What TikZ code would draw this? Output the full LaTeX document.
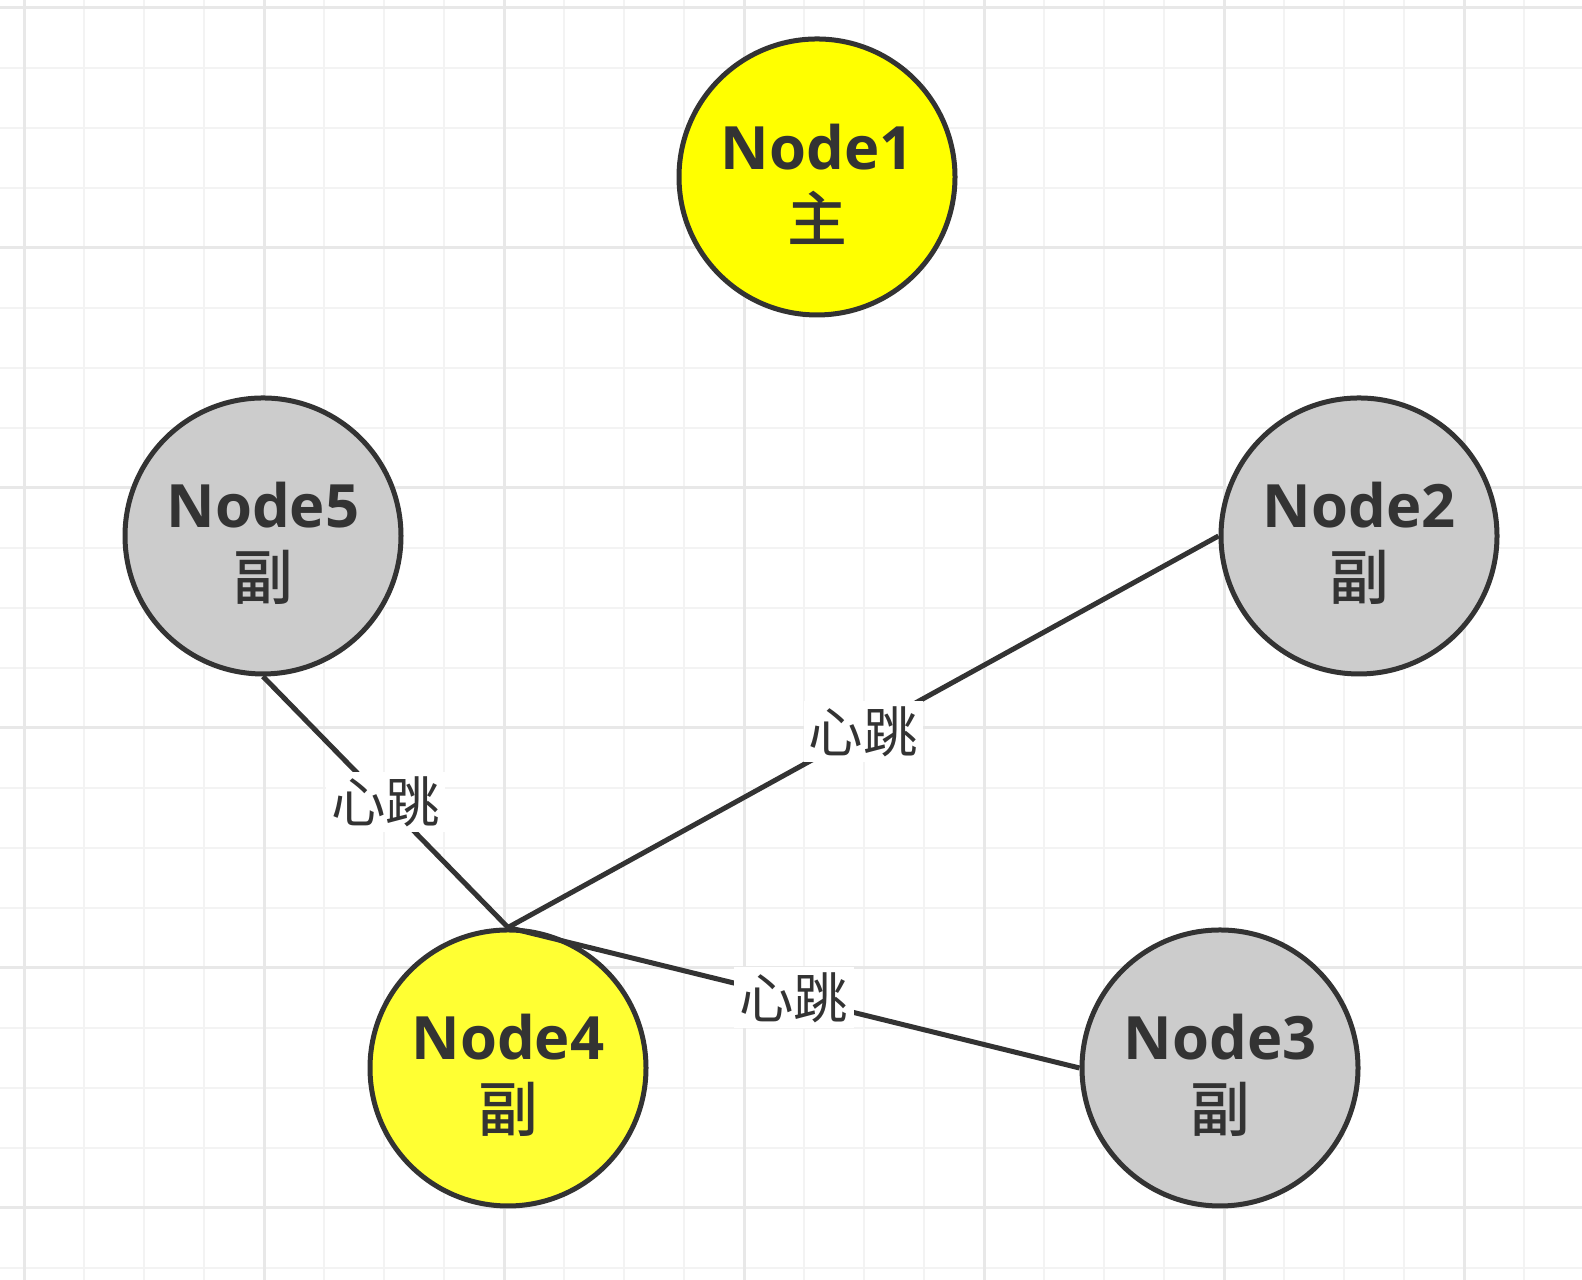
\documentclass[tikz,border=0pt]{standalone}
\usepackage{fontspec}
\setmainfont{Open Sans}
\newfontfamily\cjk{Noto Sans CJK SC}
\newfontfamily\cjkmed{Noto Sans CJK SC Medium}
\usetikzlibrary{positioning}

\definecolor{inkgray}{HTML}{333333}
\definecolor{slavegray}{HTML}{CCCCCC}
\definecolor{masteryellow}{HTML}{FFFF00}
\definecolor{paleyellow}{HTML}{FFFF33}
\definecolor{gridminor}{HTML}{F3F3F3}
\definecolor{gridmajor}{HTML}{E8E8E8}

\begin{document}
\begin{tikzpicture}[
    server/.style={circle, draw=inkgray, line width=0.05cm, minimum size=2.76cm,
      inner sep=0pt, align=center, text=inkgray,
      font=\fontsize{17}{20.5}\selectfont\bfseries},
    beat/.style={draw=inkgray, line width=0.05cm},
    beatlabel/.style={fill=white, inner sep=1.5pt, text=inkgray,
      font=\fontsize{15.5}{18}\selectfont\cjk}
  ]
      \def\w{15.82}
      \def\h{12.80}
      \def\top{\rule{0pt}{0.6cm}}

      \useasboundingbox (0,0) rectangle (\w,\h);
      \fill[white] (0,0) rectangle (\w,\h);

      % grid
      \foreach \k in {0,...,25}
        \draw[gridminor, line width=0.02cm] (0.24+0.6*\k,0) -- (0.24+0.6*\k,\h);
      \foreach \k in {0,...,21}
        \draw[gridminor, line width=0.02cm] (0,12.72-0.6*\k) -- (\w,12.72-0.6*\k);
      \foreach \k in {0,...,6}
        \draw[gridmajor, line width=0.03cm] (0.24+2.4*\k,0) -- (0.24+2.4*\k,\h);
      \foreach \k in {0,...,5}
        \draw[gridmajor, line width=0.03cm] (0,12.72-2.4*\k) -- (\w,12.72-2.4*\k);

      \node[server, fill=masteryellow] (node1) at (8.17,11.03) {\top Node1\\{\cjkmed\mdseries 主}};
      \node[server, fill=slavegray] (node5) at (2.63,7.44) {\top Node5\\{\cjkmed\mdseries 副}};
      \node[server, fill=slavegray] (node2) at (13.59,7.44) {\top Node2\\{\cjkmed\mdseries 副}};
      \node[server, fill=paleyellow] (node4) at (5.08,2.12) {\top Node4\\{\cjkmed\mdseries 副}};
      \node[server, fill=slavegray] (node3) at (12.20,2.12) {\top Node3\\{\cjkmed\mdseries 副}};

      \draw[beat] (node4.north) -- node[beatlabel] {心跳} (node5.south);
      \draw[beat] (node4.north) -- node[beatlabel] {心跳} (node2.west);
      \draw[beat] (node4.north) -- node[beatlabel] {心跳} (node3.west);

    \end{tikzpicture}
\end{document}
